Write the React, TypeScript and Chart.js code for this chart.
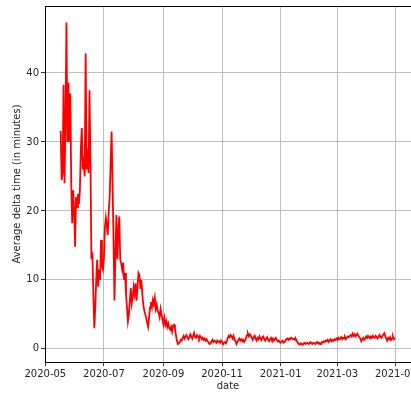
import React, { useEffect, useRef } from "react";
import { Chart, registerables } from "chart.js";

Chart.register(...registerables);

// First day of the daily series
const START_DATE = "2020-05-17";

// Average delta time per day, in minutes
const DELTA_MINUTES: number[] = [
  // May 17 - May 31
  31.6, 24.5, 25.5, 38.3, 24.0, 33.0, 47.3, 30.0, 38.6, 30.0, 37.0, 24.0, 18.2, 23.0, 20.0,
  // June
  14.8, 22.0, 20.5, 22.5, 21.0, 23.0, 29.0, 32.0, 26.0, 27.0, 25.0, 42.8, 26.0, 29.0, 25.5,
  37.5, 27.0, 13.0, 14.0, 8.0, 3.0, 6.0, 10.0, 12.9, 9.0, 11.5, 10.0, 15.8, 12.0, 11.5,
  // July
  13.0, 17.5, 19.0, 18.0, 16.5, 20.0, 22.0, 27.0, 31.5, 24.0, 16.0, 7.0, 14.0, 19.4, 13.0,
  17.0, 19.2, 13.0, 12.4, 11.5, 12.5, 10.0, 11.0, 8.0, 6.0, 4.0, 5.0, 7.0, 8.8, 6.6, 7.5,
  // August
  9.0, 8.0, 9.5, 7.0, 9.0, 11.0, 10.7, 8.7, 10.0, 8.0, 6.4, 5.6, 5.0, 4.5, 3.8,
  3.2, 4.5, 6.0, 6.8, 6.0, 7.1, 6.5, 7.4, 5.8, 6.4, 5.5, 5.2, 4.6, 5.8, 5.0, 4.3,
  // September
  3.6, 4.5, 3.5, 4.0, 3.2, 3.7, 3.0, 2.8, 3.2, 2.5, 3.4, 3.5, 3.0, 2.0, 1.2,
  0.7, 0.8, 1.0, 1.3, 1.2, 1.6, 1.9, 1.5, 1.8, 2.0, 1.6, 1.4, 1.7, 2.1, 1.8,
  // October
  1.5, 1.9, 2.3, 1.7, 1.6, 2.0, 1.8, 1.5, 1.9, 1.7, 1.4, 1.6, 1.3, 1.5, 1.2, 1.4,
  1.1, 0.9, 0.7, 0.8, 1.1, 1.3, 1.0, 1.2, 1.1, 0.9, 1.2, 1.0, 1.1, 0.9, 1.2,
  // November
  1.0, 0.8, 0.9, 1.0, 0.8, 1.1, 1.6, 1.9, 1.7, 2.0, 1.8, 1.5, 1.9, 1.4, 1.1,
  0.7, 1.0, 1.3, 1.5, 1.2, 1.4, 1.1, 1.3, 1.0, 1.2, 1.6, 2.0, 2.2, 1.8, 2.1,
  // December
  1.9, 1.6, 1.3, 1.7, 1.9, 1.5, 1.2, 1.6, 1.4, 1.8, 1.5, 1.3, 1.7, 1.8, 1.4, 1.2,
  1.5, 1.7, 1.3, 1.1, 1.4, 1.6, 1.3, 1.5, 1.2, 1.4, 1.6, 1.3, 1.1, 1.2, 1.0,
  // January
  0.9, 1.1, 1.2, 0.9, 1.0, 1.2, 1.4, 1.5, 1.3, 1.5, 1.4, 1.6, 1.5, 1.4, 1.5,
  1.3, 1.4, 1.1, 0.9, 0.7, 0.6, 0.8, 0.7, 0.6, 0.8, 0.9, 0.7, 0.8, 0.9, 0.7, 0.8,
  // February
  1.0, 0.8, 0.7, 0.9, 0.8, 0.7, 0.9, 1.0, 0.8, 0.9, 0.7, 0.8, 1.0, 0.9,
  1.1, 1.0, 1.2, 1.1, 1.3, 1.0, 1.2, 1.4, 1.1, 1.3, 1.2, 1.4, 1.3, 1.5,
  // March
  1.3, 1.6, 1.4, 1.5, 1.7, 1.4, 1.6, 1.5, 1.7, 1.4, 1.6, 1.8, 1.7, 1.9, 2.0, 1.8,
  2.2, 1.9, 2.1, 1.8, 2.0, 2.2, 1.9, 1.7, 1.5, 1.1, 1.4, 1.6, 1.3, 1.5, 1.8,
  // April
  1.6, 1.9, 1.7, 1.5, 1.8, 1.6, 1.9, 1.7, 1.6, 1.9, 1.7, 1.5, 1.8, 2.0, 1.7,
  1.6, 1.9, 2.1, 2.3, 1.8, 1.5, 1.2, 1.6, 1.4, 1.7, 1.3, 1.5, 1.8, 1.4, 1.6,
];

// Month ticks on the date axis
const MONTH_TICKS = ["2020-05", "2020-07", "2020-09", "2020-11", "2021-01", "2021-03", "2021-05"];

// Value ticks on the vertical axis
const Y_TICKS = [0, 10, 20, 30, 40];

const DAY_MS = 86400000;

function monthStart(label: string): number {
  const [y, m] = label.split("-").map(Number);
  return Date.UTC(y, m - 1, 1);
}

function buildPoints() {
  const [y, m, d] = START_DATE.split("-").map(Number);
  const t0 = Date.UTC(y, m - 1, d);
  return DELTA_MINUTES.map((v, i) => ({ x: t0 + i * DAY_MS, y: v }));
}

const FONT = { family: "'DejaVu Sans', sans-serif", size: 10 };
const TEXT = "#262626";

// Draws the top spine of the plot frame
const topSpine = {
  id: "topSpine",
  afterDraw(chart: any) {
    const { ctx, chartArea } = chart;
    ctx.save();
    ctx.strokeStyle = "#000";
    ctx.lineWidth = 1;
    ctx.beginPath();
    ctx.moveTo(chartArea.left, chartArea.top + 0.5);
    ctx.lineTo(chartArea.right, chartArea.top + 0.5);
    ctx.stroke();
    ctx.restore();
  },
};

export default function App() {
  const canvasRef = useRef<HTMLCanvasElement | null>(null);

  useEffect(() => {
    if (!canvasRef.current) return;
    const chart = new Chart(canvasRef.current, {
      type: "line",
      data: {
        datasets: [
          {
            data: buildPoints(),
            borderColor: "#ff0000",
            borderWidth: 1.8,
            pointRadius: 0,
            tension: 0,
            fill: false,
          },
        ],
      },
      options: {
        animation: false,
        responsive: false,
        layout: { padding: { top: 6, left: 0, right: 0, bottom: 0 } },
        plugins: { legend: { display: false }, tooltip: { enabled: false } },
        scales: {
          x: {
            type: "linear",
            min: Date.UTC(2020, 3, 30, 16),
            max: Date.UTC(2021, 4, 16, 18),
            afterBuildTicks: (scale: any) => {
              scale.ticks = MONTH_TICKS.map((l) => ({ value: monthStart(l) }));
            },
            afterFit: (scale: any) => {
              scale.height = 31;
              scale.paddingLeft = 0;
              scale.paddingRight = 0;
            },
            ticks: {
              autoSkip: false,
              maxRotation: 0,
              padding: 2,
              color: TEXT,
              font: FONT,
              callback: (value: any) => {
                const idx = MONTH_TICKS.findIndex((l) => monthStart(l) === value);
                return idx >= 0 ? MONTH_TICKS[idx] : "";
              },
            },
            grid: { color: "#b0b0b0", lineWidth: 0.8, tickColor: "#000", tickLength: 4 },
            border: { color: "#000", width: 1 },
            title: { display: true, text: "date", color: TEXT, font: FONT, padding: { top: 0, bottom: 1 } },
          },
          y: {
            type: "linear",
            min: -1.9,
            max: 49.7,
            afterBuildTicks: (scale: any) => {
              scale.ticks = Y_TICKS.map((v) => ({ value: v }));
            },
            afterFit: (scale: any) => {
              scale.width = 45;
              scale.paddingTop = 0;
              scale.paddingBottom = 0;
            },
            ticks: { padding: 2, color: TEXT, font: FONT },
            grid: { color: "#b0b0b0", lineWidth: 0.8, tickColor: "#000", tickLength: 4 },
            border: { color: "#000", width: 1 },
            title: {
              display: true,
              text: "Average delta time (in minutes)",
              color: TEXT,
              font: FONT,
              padding: { top: 11, bottom: 0 },
            },
          },
        },
      },
      plugins: [topSpine],
    });
    return () => chart.destroy();
  }, []);

  return (
    <div style={{ position: "fixed", left: 0, top: 0, width: 411, height: 393, background: "#fff" }}>
      <canvas ref={canvasRef} width={411} height={393} style={{ display: "block" }} />
    </div>
  );
}
